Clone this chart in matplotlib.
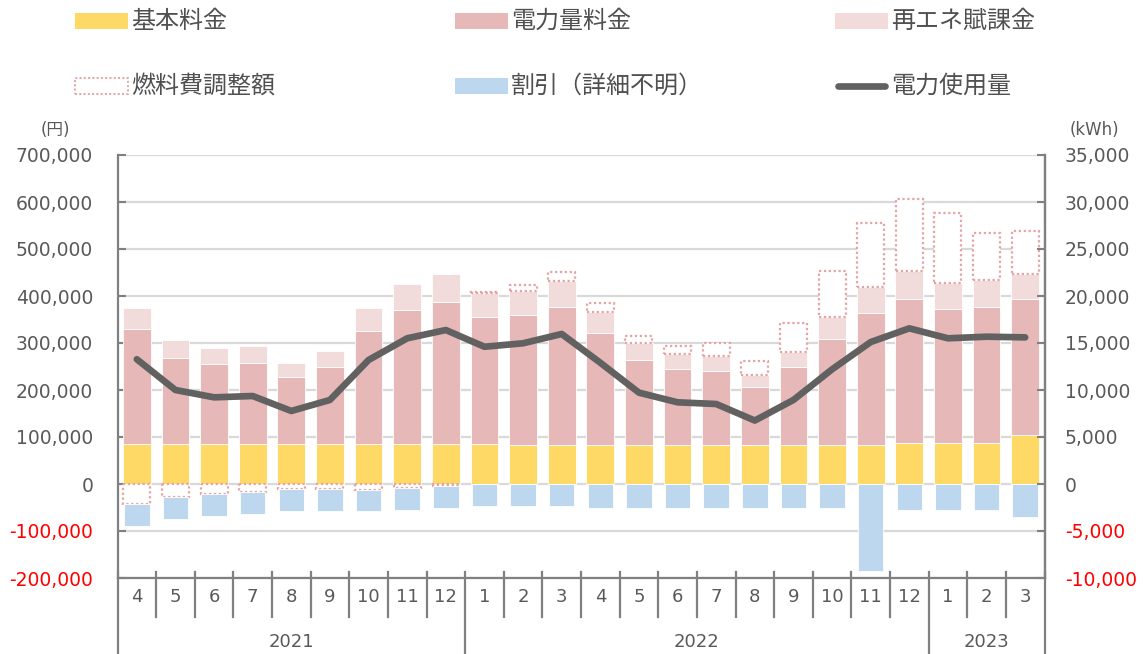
import matplotlib
matplotlib.use("Agg")
import matplotlib.pyplot as plt
import matplotlib.transforms as mtransforms
from matplotlib.patches import Rectangle
from matplotlib.lines import Line2D
import numpy as np

plt.rcParams['font.family'] = ['DejaVu Sans', 'Noto Sans CJK JP']

# ---------------- data ----------------
months = ["4", "5", "6", "7", "8", "9", "10", "11", "12",
          "1", "2", "3", "4", "5", "6", "7", "8", "9", "10", "11", "12",
          "1", "2", "3"]
years = ["2021", "2022", "2023"]
year_counts = [9, 12, 3]

base_fee = [85000, 85000, 85000, 85000, 85000, 85000, 85000, 85000, 85000,
            85000, 83000, 83000, 83000, 83000, 83000, 83000, 83000, 83000, 83000, 83000, 87900,
            87900, 87900, 104300]
energy_fee = [244800, 183800, 169600, 172400, 143400, 163900, 241200, 285200, 302000,
              269700, 276600, 294300, 237600, 180800, 161000, 157400, 122700, 165900, 226200, 281500, 305100,
              284400, 289400, 289300]
renew_levy = [44000, 36900, 35400, 35500, 29000, 34100, 47600, 55800, 59000,
              52300, 52000, 55300, 44700, 35500, 31900, 31900, 25500, 32600, 45500, 53900, 60200,
              56100, 56700, 53200]
fuel_adj = [-42500, -28300, -21300, -17000, -11300, -11300, -12800, -8500, -4300,
            2500, 11000, 19100, 19100, 16300, 17700, 27000, 31500, 60300, 99200, 137600, 153200,
            147500, 99300, 92200]
discount = [-46900, -46900, -46800, -46800, -46900, -45400, -45400, -46800, -46800,
            -46800, -46100, -46100, -51800, -51800, -51800, -51800, -51800, -51800, -51800, -184400, -55300,
            -55300, -55300, -69500]
usage_kwh = [13270, 10000, 9220, 9360, 7770, 8940, 13190, 15500, 16380,
             14600, 14970, 15960, 12900, 9720, 8690, 8510, 6750, 8940, 12200, 15100, 16560,
             15500, 15670, 15600]

legend_labels = ["基本料金", "電力量料金", "再エネ賦課金", "燃料費調整額", "割引（詳細不明）", "電力使用量"]

# ---------------- style ----------------
C_BASE = "#FFD966"
C_ENERGY = "#E6B8B7"
C_RENEW = "#F2DCDB"
C_FUEL_EDGE = "#E6A3A3"
C_DISC = "#BDD7EE"
C_LINE = "#616161"
C_AXIS = "#808080"
C_GRID = "#D9D9D9"
C_TEXT = "#595959"
C_NEG = "#FF0000"

W, H = 1143, 654
fig = plt.figure(figsize=(W / 100, H / 100), dpi=100)
ax_l, ax_r, ax_t, ax_b = 117.5, 1044.5, 155, 578
ax = fig.add_axes([ax_l / W, 1 - ax_b / H, (ax_r - ax_l) / W, (ax_b - ax_t) / H])

n = len(months)
x = np.arange(n)
bw = 0.72

base = np.array(base_fee, float)
energy = np.array(energy_fee, float)
renew = np.array(renew_levy, float)
fuel = np.array(fuel_adj, float)
disc = np.array(discount, float)

ax.set_axisbelow(True)
ax.bar(x, base, bw, color=C_BASE, edgecolor="white", linewidth=0.6, zorder=2)
ax.bar(x, energy, bw, bottom=base, color=C_ENERGY, edgecolor="white", linewidth=0.6, zorder=2)
top = base + energy
ax.bar(x, renew, bw, bottom=top, color=C_RENEW, edgecolor="white", linewidth=0.6, zorder=2)
top = top + renew
fuel_neg = np.where(fuel < 0, fuel, 0)
fuel_bottom = np.where(fuel > 0, top, 0)
ax.bar(x, fuel, bw * 0.97, bottom=fuel_bottom, facecolor="white", edgecolor=C_FUEL_EDGE,
       linewidth=1.6, linestyle=(0, (1, 1.2)), zorder=2)
ax.bar(x, disc, bw * 0.92, bottom=fuel_neg, color=C_DISC, edgecolor="white", linewidth=0.6, zorder=2)

ax.set_xlim(-0.5, n - 0.5)
ax.set_ylim(-200000, 700000)
ax.set_yticks(np.arange(-200000, 700001, 100000))
ax.yaxis.grid(True, color=C_GRID, linewidth=1.6)
ax.set_yticklabels([f"{v:,}" for v in range(-200000, 700001, 100000)])
for lab, v in zip(ax.get_yticklabels(), range(-200000, 700001, 100000)):
    lab.set_color(C_NEG if v < 0 else C_TEXT)
ax.tick_params(axis="y", direction="in", length=6, width=1.5, color=C_AXIS,
               labelsize=13.5, pad=17.5)
ax.set_xticks([])

ax.spines["top"].set_visible(False)
for s in ["left", "right", "bottom"]:
    ax.spines[s].set_color(C_AXIS)
    ax.spines[s].set_linewidth(1.6)

ax2 = ax.twinx()
ax2.plot(x, usage_kwh, color=C_LINE, linewidth=4.8, solid_capstyle="round",
         solid_joinstyle="round", zorder=5)
ax2.set_ylim(-10000, 35000)
ax2.set_yticks(np.arange(-10000, 35001, 5000))
ax2.set_yticklabels([f"{v:,}" for v in range(-10000, 35001, 5000)])
for lab, v in zip(ax2.get_yticklabels(), range(-10000, 35001, 5000)):
    lab.set_color(C_NEG if v < 0 else C_TEXT)
ax2.tick_params(axis="y", direction="in", length=6, width=1.5, color=C_AXIS,
                labelsize=13.5, pad=14.5)
for s in ["top", "left", "bottom"]:
    ax2.spines[s].set_visible(False)
ax2.spines["right"].set_color(C_AXIS)
ax2.spines["right"].set_linewidth(1.6)

# ---------------- category axis ----------------
axh = ax_b - ax_t
def ay(py):
    return (ax_b - py) / axh

trans = mtransforms.blended_transform_factory(ax.transData, ax.transAxes)
for i, m in enumerate(months):
    ax.text(i, ay(597), m, transform=trans, ha="center", va="center",
            fontsize=13, color=C_TEXT, clip_on=False)
year_edges = np.concatenate([[0], np.cumsum(year_counts)]) - 0.5
for b in np.arange(n + 1) - 0.5:
    if b in year_edges:
        y0, y1 = ay(572), ay(660)
    else:
        y0, y1 = ay(572), ay(617)
    ax.add_line(Line2D([b, b], [y0, y1], transform=trans, color=C_AXIS,
                       linewidth=1.6, clip_on=False))
for k, yr in enumerate(years):
    cx = (year_edges[k] + year_edges[k + 1]) / 2
    ax.text(cx, ay(642), yr, transform=trans, ha="center", va="center",
            fontsize=13, color=C_TEXT, clip_on=False)

# units
fig.text(55 / W, 1 - 130 / H, "(円)", ha="center", va="center", fontsize=12,
         color=C_TEXT, family=["DejaVu Sans", "Noto Sans CJK JP"])
fig.text(1094 / W, 1 - 130 / H, "(kWh)", ha="center", va="center", fontsize=12,
         color=C_TEXT)

# ---------------- legend ----------------
cols = [75, 455, 835]
rows = [21, 86]
pw, ph = 53, 16
handles = [
    dict(fc=C_BASE, ec="none"),
    dict(fc=C_ENERGY, ec="none"),
    dict(fc=C_RENEW, ec="none"),
    dict(fc="white", ec=C_FUEL_EDGE, ls=(0, (1, 1.2))),
    dict(fc=C_DISC, ec="none"),
    None,
]
for k, lab in enumerate(legend_labels):
    cx = cols[k % 3]
    cy = rows[k // 3]
    h = handles[k]
    if h is None:
        fig.add_artist(Line2D([(cx + 3) / W, (cx + pw - 3) / W], [1 - cy / H, 1 - cy / H],
                              transform=fig.transFigure, color=C_LINE, linewidth=4.8,
                              solid_capstyle="round"))
    else:
        fig.add_artist(Rectangle((cx / W, 1 - (cy + ph / 2) / H), pw / W, ph / H,
                                 transform=fig.transFigure, facecolor=h["fc"],
                                 edgecolor=h["ec"], linewidth=1.4,
                                 linestyle=h.get("ls", "solid")))
    fig.text((cx + pw + 3) / W, 1 - cy / H, lab, ha="left", va="center",
             fontsize=17.3, color="#505050", family=["Noto Sans CJK JP"])

fig.savefig("out.png", dpi=100)
